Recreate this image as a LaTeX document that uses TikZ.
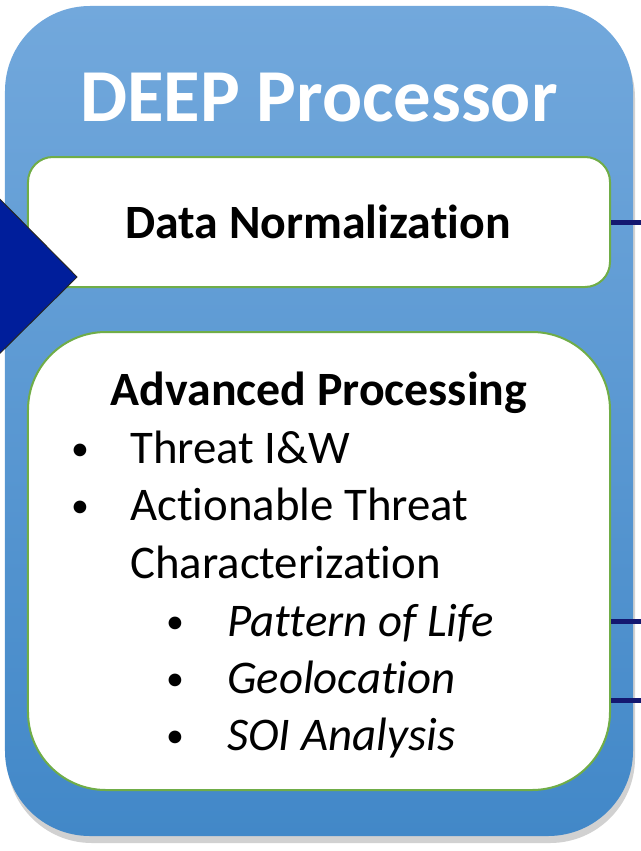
\documentclass[tikz,border=0pt]{standalone}
\usepackage{fontspec}
\setmainfont{Carlito}[Ligatures=NoCommon, RawFeature={-liga;-clig;-calt}]
\usetikzlibrary{shadows}

\definecolor{procTop}{RGB}{114,168,220}
\definecolor{procBot}{RGB}{66,136,200}
\definecolor{boxGreen}{RGB}{112,173,71}
\definecolor{feedBlue}{RGB}{0,30,155}
\definecolor{linkNavy}{RGB}{20,24,112}

\begin{document}
\begin{tikzpicture}[x=1bp, y=-1bp,
  panel/.style={draw=boxGreen, line width=2bp, fill=white, rounded corners=#1},
  item/.style={anchor=base west, inner sep=0pt, font=\fontsize{47}{56}\selectfont},
  subitem/.style={item, font=\fontsize{47}{56}\selectfont\itshape},
  dot/.style={anchor=base, inner sep=0pt, font=\fontsize{36}{40}\selectfont},
  link/.style={draw=linkNavy, line width=5bp}]
  \useasboundingbox (0,0) rectangle (641,851);

  % Processor panel
  \node[rounded corners=85bp, minimum width=628bp, minimum height=830bp,
        top color=procTop, bottom color=procBot, draw=none,
        drop shadow={shadow xshift=2bp, shadow yshift=-7bp, opacity=0.3, fill=black!60}]
        (proc) at (319,421) {};
  \node[anchor=base, text=white, font=\bfseries\fontsize{75}{90}\selectfont] (title) at (319,121) {DEEP Processor};

  % Inner boxes
  \node[panel=25bp, minimum width=582bp, minimum height=130bp] (norm) at (319,222) {};
  \node[anchor=base, font=\bfseries\fontsize{48}{58}\selectfont] (normtxt) at (318,238) {Data Normalization};
  \node[panel=78bp, minimum width=582bp, minimum height=458bp] (adv) at (319,561) {};
  \node[anchor=base, font=\bfseries\fontsize{48}{58}\selectfont] (advtxt) at (319,405) {Advanced Processing};

  % Bullet list
  \node[dot] (b1) at (80,460) {\textbullet};
  \node[item] (t1) at (130,463) {Threat I\&W};
  \node[dot] (b2) at (80,517) {\textbullet};
  \node[item] (t2) at (130,520) {Actionable Threat};
  \node[item] (t3) at (130,578) {Characterization};
  \node[dot] (b4) at (175,633) {\textbullet};
  \node[subitem] (t4) at (227,636) {Pattern of Life};
  \node[dot] (b5) at (175,690) {\textbullet};
  \node[subitem] (t5) at (227,693) {Geolocation};
  \node[dot] (b6) at (175,747) {\textbullet};
  \node[subitem] (t6) at (227,750) {SOI Analysis};

  % Incoming feed arrow
  \filldraw[fill=feedBlue, draw=black!85, line width=1bp] (-25,174) -- (77,277) -- (-25,378) -- cycle;

  % Outgoing links
  \coordinate (o1) at (641,222);
  \coordinate (o2) at (641,621);
  \coordinate (o3) at (641,700);
  \draw[link] (norm.east |- o1) -- (o1);
  \draw[link] (adv.east |- o2) -- (o2);
  \draw[link] (adv.east |- o3) -- (o3);
\end{tikzpicture}
\end{document}
